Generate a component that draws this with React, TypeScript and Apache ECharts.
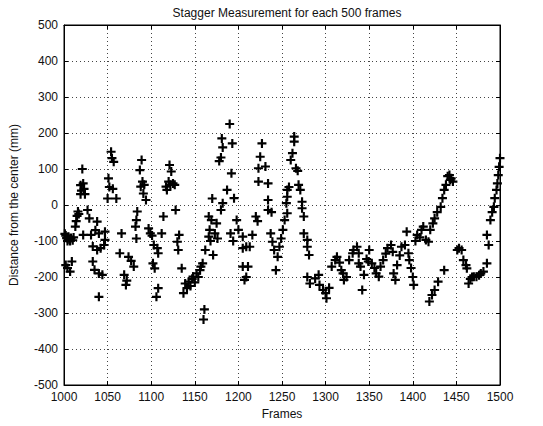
import React, { useEffect, useRef } from "react";
import * as echarts from "echarts";

const titleText = "Stagger Measurement for each 500 frames";
const xName = "Frames";
const yName = "Distance from the center (mm)";

const frames = [
  1001, 1002, 1003, 1004, 1005, 1006, 1007, 1008, 1010, 1011,
  1002, 1004, 1007, 1009, 1013, 1014, 1015, 1016, 1017, 1019,
  1019, 1020, 1021, 1022, 1023, 1024, 1022, 1027, 1029, 1031,
  1033, 1033, 1035, 1036, 1038, 1038, 1040, 1040, 1040, 1042,
  1044, 1046, 1047, 1047, 1050, 1051, 1052, 1054, 1055, 1056,
  1057, 1060, 1064, 1066, 1069, 1071, 1072, 1074, 1077, 1080,
  1082, 1083, 1084, 1083, 1087, 1088, 1089, 1090, 1091, 1092,
  1094, 1097, 1099, 1101, 1102, 1103, 1104, 1106, 1107, 1108,
  1108, 1112, 1114, 1117, 1118, 1120, 1121, 1122, 1123, 1125,
  1127, 1128, 1130, 1131, 1132, 1135, 1137, 1139, 1141, 1143,
  1145, 1147, 1148, 1150, 1152, 1154, 1156, 1157, 1159, 1160,
  1161, 1162, 1166, 1167, 1169, 1170, 1171, 1173, 1175, 1176,
  1166, 1168, 1178, 1180, 1180, 1182, 1182, 1181, 1187, 1190,
  1192, 1193, 1195, 1191, 1198, 1200, 1194, 1205, 1205, 1209,
  1213, 1216, 1220, 1222, 1205, 1211, 1207, 1209, 1223, 1223,
  1225, 1227, 1231, 1234, 1234, 1234, 1237, 1239, 1241, 1243,
  1245, 1247, 1249, 1238, 1251, 1253, 1255, 1256, 1256, 1256,
  1258, 1260, 1262, 1264, 1264, 1266, 1268, 1269, 1271, 1273,
  1273, 1275, 1275, 1279, 1279, 1281, 1279, 1282, 1288, 1292,
  1293, 1297, 1300, 1301, 1304, 1307, 1311, 1313, 1316, 1318,
  1320, 1321, 1324, 1327, 1331, 1332, 1336, 1338, 1338, 1340,
  1342, 1344, 1347, 1350, 1349, 1353, 1356, 1358, 1361, 1363,
  1366, 1369, 1371, 1375, 1377, 1378, 1380, 1382, 1385, 1387,
  1391, 1393, 1395, 1396, 1398, 1400, 1401, 1403, 1405, 1408,
  1410, 1412, 1415, 1418, 1420, 1423, 1425, 1428, 1432, 1434,
  1436, 1438, 1440, 1442, 1443, 1444, 1446, 1419, 1422, 1425,
  1429, 1436, 1451, 1453, 1456, 1458, 1461, 1462, 1464, 1466,
  1468, 1470, 1473, 1476, 1478, 1481, 1485, 1487, 1485, 1489,
  1491, 1493, 1494, 1496, 1497, 1498, 1499, 1500,
];

const distances = [
  -80, -85, -92, -100, -88, -95, -100, -92, -98, -90,
  -167, -175, -185, -157, -60, -45, -30, -18, -25, 30,
  55, 40, 100, 60, 45, 30, -83, -14, -37, -83,
  -115, -157, -180, -70, -46, -125, -79, -190, -255, -120,
  -194, -111, -74, -97, 18, 74, 50, 148, 130, 45,
  120, 18, -134, -79, -194, -222, -210, -144, -155, -171,
  -60, -42, -18, -93, 97, 51, 125, 65, 32, 56,
  14, -65, -79, -85, -162, -111, -176, -255, -120, -134,
  -231, -79, -32, 51, 42, 65, 111, 56, 93, 60,
  56, -14, -102, -125, -83, -176, -245, -218, -231, -213,
  -225, -205, -199, -215, -190, -200, -181, -171, -162, -318,
  -290, -125, -88, -69, -42, 18, -139, -79, -51, -93,
  -32, -100, 122, 132, -14, 5, 160, 185, 42, 225,
  88, 171, 19, -79, -42, -69, -100, -88, -120, -116,
  -116, -83, -32, -45, -171, -171, -208, -200, 102, 65,
  134, 171, 107, 60, 14, -14, -79, -102, -125, -181,
  -144, -116, -93, -20, -69, -42, 5, 23, -23, 42,
  50, 125, 144, 176, 190, 102, 95, 56, 42, 9,
  -9, -32, -79, -97, -116, -139, -200, -218, -204, -194,
  -222, -236, -245, -259, -230, -171, -153, -144, -160, -181,
  -190, -208, -200, -153, -134, -125, -116, -134, -162, -171,
  -236, -194, -150, -125, -157, -162, -175, -190, -199, -171,
  -153, -135, -120, -111, -130, -190, -208, -167, -140, -116,
  -111, -74, -134, -153, -175, -200, -222, -100, -83, -90,
  -69, -60, -97, -102, -69, -51, -37, -20, -5, 19,
  42, 56, 80, 83, 70, 74, 65, -268, -250, -236,
  -213, -181, -125, -120, -125, -153, -167, -176, -218, -205,
  -200, -199, -199, -195, -190, -185, -162, -111, -83, -42,
  -20, -5, 19, 42, 60, 83, 106, 130,
];

const xMin = 1000;
const xMax = 1500;
const xStep = 50;
const yMin = -500;
const yMax = 500;
const yStep = 100;

const PLUS = "path://M3.8,0h2.4v3.8h3.8v2.4h-3.8v3.8h-2.4v-3.8h-3.8v-2.4h3.8z";

export default function App() {
  const ref = useRef<HTMLDivElement>(null);
  useEffect(() => {
    const chart = echarts.init(ref.current!, null, { renderer: "svg" });
    const data = frames.map((f, i) => [f, distances[i]]);
    const font = "'Liberation Sans', Arial, sans-serif";
    const tick = { show: true, inside: true, length: 4, lineStyle: { color: "#000", width: 1 } };
    const split = { show: true, lineStyle: { type: [1, 3] as any, color: "#444", width: 1 } };
    const label = { color: "#111", fontSize: 12, fontFamily: font, formatter: (v: number) => String(v) };
    const line = { show: true, onZero: false, lineStyle: { color: "#000", width: 1 } };
    chart.setOption({
      animation: false,
      backgroundColor: "#fff",
      title: {
        text: titleText,
        left: 282,
        top: 2,
        textAlign: "center",
        textStyle: { fontSize: 12, fontWeight: "normal", color: "#111", fontFamily: font },
      },
      grid: {
        left: 64,
        right: 43,
        top: 25,
        bottom: 41,
        show: true,
        borderColor: "#000",
        borderWidth: 1,
        backgroundColor: "#fff",
      },
      xAxis: [
        {
          type: "value",
          min: xMin,
          max: xMax,
          interval: xStep,
          name: xName,
          nameLocation: "middle",
          nameGap: 23,
          nameTextStyle: { color: "#111", fontSize: 12, fontFamily: font },
          axisLine: line,
          axisTick: tick,
          axisLabel: { ...label, margin: 6 },
          splitLine: split,
        },
        {
          type: "value",
          position: "top",
          min: xMin,
          max: xMax,
          interval: xStep,
          axisLine: line,
          axisTick: tick,
          axisLabel: { show: false },
          splitLine: { show: false },
        },
      ],
      yAxis: [
        {
          type: "value",
          min: yMin,
          max: yMax,
          interval: yStep,
          name: yName,
          nameLocation: "middle",
          nameGap: 44,
          nameTextStyle: { color: "#111", fontSize: 12, fontFamily: font },
          axisLine: line,
          axisTick: tick,
          axisLabel: { ...label, margin: 6 },
          splitLine: split,
        },
        {
          type: "value",
          position: "right",
          min: yMin,
          max: yMax,
          interval: yStep,
          axisLine: line,
          axisTick: tick,
          axisLabel: { show: false },
          splitLine: { show: false },
        },
      ],
      series: [
        {
          type: "scatter",
          xAxisIndex: 0,
          yAxisIndex: 0,
          data,
          symbol: PLUS,
          symbolSize: 9,
          itemStyle: { color: "#000", opacity: 1 },
          clip: false,
        },
      ],
    });
    return () => chart.dispose();
  }, []);
  return (
    <div
      ref={ref}
      style={{ position: "fixed", left: 0, top: 0, width: 543, height: 426, background: "#fff" }}
    />
  );
}
